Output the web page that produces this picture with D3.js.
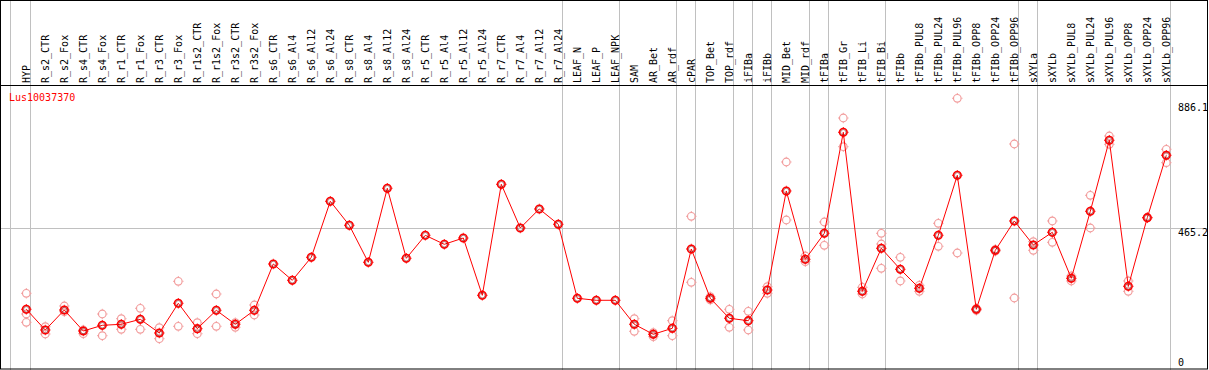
<!DOCTYPE html>
<html>
<head>
<meta charset="utf-8">
<script src="https://cdn.jsdelivr.net/npm/d3@7"></script>
<style>
  body { margin: 0; background: #fff; }
  text { font-family: "DejaVu Sans Mono", monospace; font-size: 10px; }
</style>
</head>
<body>
<script>
// categories (sample names)
var samples = ["HYP", "R_s2_CTR", "R_s2_Fox", "R_s4_CTR", "R_s4_Fox", "R_r1_CTR", "R_r1_Fox",
  "R_r3_CTR", "R_r3_Fox", "R_r1s2_CTR", "R_r1s2_Fox", "R_r3s2_CTR", "R_r3s2_Fox",
  "R_s6_CTR", "R_s6_Al4", "R_s6_Al12", "R_s6_Al24", "R_s8_CTR", "R_s8_Al4", "R_s8_Al12", "R_s8_Al24",
  "R_r5_CTR", "R_r5_Al4", "R_r5_Al12", "R_r5_Al24", "R_r7_CTR", "R_r7_Al4", "R_r7_Al12", "R_r7_Al24",
  "LEAF_N", "LEAF_P", "LEAF_NPK", "SAM", "AR_Bet", "AR_rdf", "cPAR", "TOP_Bet", "TOP_rdf",
  "iFIBa", "iFIBb", "MID_Bet", "MID_rdf", "tFIBa", "tFIB_Gr", "tFIB_Li", "tFIB_Bi", "tFIBb",
  "tFIBb_PUL8", "tFIBb_PUL24", "tFIBb_PUL96", "tFIBb_OPP8", "tFIBb_OPP24", "tFIBb_OPP96",
  "sXYLa", "sXYLb", "sXYLb_PUL8", "sXYLb_PUL24", "sXYLb_PUL96", "sXYLb_OPP8", "sXYLb_OPP24", "sXYLb_OPP96"]

// mean expression per sample
var means = [191.6, 121.9, 189.2, 118.5, 137.7, 141.1, 157.9, 111.8, 211.8, 126.3, 188.2, 141.1, 188.2,
  344.1, 289.2, 366.6, 555.2, 474.4, 349.8, 599.0, 363.3, 440.7, 410.4, 431.6, 238.7, 612.4, 465.3, 529.3, 477.7,
  228.6, 221.9, 221.9, 141.1, 107.4, 127.6, 394.6, 228.6, 161.3, 153.2, 256.5, 589.9, 359.9, 447.4,
  787.5, 252.2, 396.9, 326.2, 262.3, 440.7, 642.7, 191.6, 390.2, 488.9,
  408.1, 450.8, 295.9, 521.5, 760.6, 269.0, 500.0, 710.1]

// replicate values per sample
var reps = [[245.4, 175.7, 147.8], [133.0, 108.4], [202.7, 183.5], [121.9, 109.4], [175.7, 102.7],
  [159.9, 124.2], [194.9, 124.2], [129.6, 92.6], [285.8, 134.3], [146.5, 109.4], [243.1, 134.3],
  [146.5, 131.0], [206.0, 172.4],
  [], [], [], [], [], [], [], [], [], [], [], [], [], [], [], [], [], [], [],
  [159.9, 117.5], [112.8, 99.3], [153.2, 102.7], [504.7, 282.5], [234.0, 223.0], [191.6, 131.0],
  [184.8, 121.9], [267.7, 245.4], [687.5, 492.2], [371.0, 351.8], [485.5, 407.0], [835.6, 739.0],
  [265.6, 243.1], [447.4, 411.4, 329.6], [366.6, 286.9], [272.4, 252.0], [481.1, 403.7], [902.0, 381.1],
  [194.9, 188.0], [393.6, 387.0], [748.1, 229.6], [419.2, 390.2], [488.9, 417.1], [303.7, 286.9],
  [575.4, 465.3], [775.0, 747.1], [286.9, 252.2], [501.3, 499.0], [730.3, 685.2]]

// samples after which a group separator is drawn
var groupEnds = ["HYP", "R_r7_Al24", "LEAF_NPK", "AR_rdf", "cPAR", "TOP_rdf", "iFIBa", "iFIBb",
  "MID_rdf", "tFIBa", "tFIB_Bi", "tFIBb_OPP96", "sXYLa", "sXYLb_OPP96"]

var yTicks = [886.1, 465.2, 0]
var geneName = "Lus10037370"

var W = 1209, H = 370
var svg = d3.select("body").append("svg").attr("width", W).attr("height", H)

var x = d3.scalePoint().domain(samples).range([26.3, 1166.3])
var y = d3.scaleLinear().domain([0, 886.1]).range([366.2, 103])

var grey = "#c0c0c0"

// background
svg.append("rect").attr("width", W).attr("height", H).attr("fill", "#fff")

// horizontal mid line
svg.append("line")
  .attr("x1", 1).attr("x2", 1207)
  .attr("y1", Math.round(y(465.2)) + 0.5).attr("y2", Math.round(y(465.2)) + 0.5)
  .attr("stroke", grey)

// vertical separators
svg.append("line").attr("x1", 10.5).attr("x2", 10.5).attr("y1", 0).attr("y2", H).attr("stroke", grey)
svg.selectAll(".sep").data(groupEnds).enter().append("line")
  .attr("x1", function(d) { return Math.round(x(d) + 4) + 0.5 })
  .attr("x2", function(d) { return Math.round(x(d) + 4) + 0.5 })
  .attr("y1", 0).attr("y2", H)
  .attr("stroke", grey)

// frame
svg.append("rect").attr("x", 0.5).attr("y", 0.5).attr("width", 1207).attr("height", 368.5)
  .attr("fill", "none").attr("stroke", "#000")
svg.append("line").attr("x1", 0).attr("x2", 1208).attr("y1", 85.5).attr("y2", 85.5).attr("stroke", "#000")

// header labels
svg.selectAll(".lab").data(samples).enter().append("text")
  .attr("transform", function(d) { return "translate(" + (x(d) + 4) + ",83) rotate(-90)" })
  .attr("fill", "#000")
  .text(function(d) { return d })

// gene name
svg.append("text").attr("x", 9).attr("y", 101).attr("fill", "#ff0000").text(geneName)

// y labels
svg.selectAll(".yl").data(yTicks).enter().append("text")
  .attr("x", 1178)
  .attr("y", function(d) { return d === 0 ? 366 : y(d) + 8 })
  .attr("fill", "#000")
  .text(function(d) { return d })

// marker helper: circle with tiny ticks
function marker(g, cx, cy, color, sw) {
  g.append("circle").attr("cx", cx).attr("cy", cy).attr("r", 3.8)
    .attr("fill", "none").attr("stroke", color).attr("stroke-width", sw)
  var t = [[0, -1], [0, 1], [-1, 0], [1, 0]]
  t.forEach(function(p) {
    g.append("line")
      .attr("x1", cx + p[0] * 4.2).attr("y1", cy + p[1] * 4.2)
      .attr("x2", cx + p[0] * 5.2).attr("y2", cy + p[1] * 5.2)
      .attr("stroke", color).attr("stroke-width", 1)
  })
}

// replicates
var gr = svg.append("g")
samples.forEach(function(s, i) {
  reps[i].forEach(function(v) { marker(gr, x(s), y(v), "#f29c9c", 1.2) })
})

// mean line
var lineFunc = d3.line()
  .x(function(d, i) { return x(samples[i]) })
  .y(function(d) { return y(d) })

svg.append("path")
  .attr("d", lineFunc(means))
  .attr("fill", "none")
  .attr("stroke", "#ff0000")
  .attr("stroke-width", 1)

var gm = svg.append("g")
samples.forEach(function(s, i) {
  marker(gm, x(s), y(means[i]), "#ff0000", 1.6)
  gm.append("circle").attr("cx", x(s)).attr("cy", y(means[i])).attr("r", 2.7)
    .attr("fill", "none").attr("stroke", "#700000").attr("stroke-width", 0.5)
})
</script>
</body>
</html>
